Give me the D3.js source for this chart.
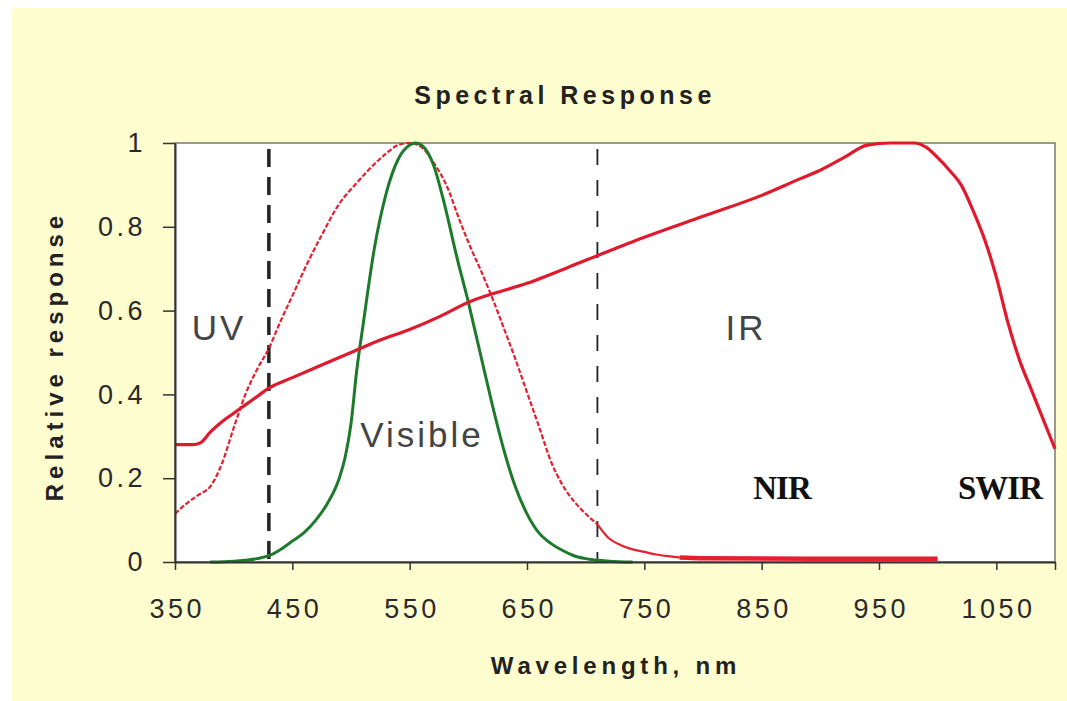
<!DOCTYPE html>
<html>
<head>
<meta charset="utf-8">
<script src="https://cdn.jsdelivr.net/npm/d3@7"></script>
<style>
  body { margin: 0; background: #fff; }
  svg text { font-family: "Liberation Sans", Arial, sans-serif; }
</style>
</head>
<body>
<div id="chart"></div>
<script>
"use strict";

// ---- data
var sensorWl  = [350, 365, 372, 380, 390, 400, 410, 420, 430, 450, 475, 500, 525, 550, 575, 600, 650, 700, 750, 800, 850, 883, 900, 920, 940, 960, 980, 990, 1000, 1010, 1020, 1030, 1040, 1050, 1060, 1070, 1080, 1090, 1100];
var sensorVal = [0.28, 0.28, 0.285, 0.31, 0.335, 0.355, 0.375, 0.395, 0.415, 0.44, 0.47, 0.50, 0.53, 0.555, 0.585, 0.62, 0.665, 0.72, 0.775, 0.825, 0.875, 0.915, 0.935, 0.965, 0.995, 1.0, 1.0, 0.99, 0.965, 0.935, 0.90, 0.84, 0.77, 0.68, 0.57, 0.48, 0.41, 0.34, 0.27];

var broadWl  = [350, 360, 370, 380, 390, 400, 410, 420, 430, 440, 450, 463, 475, 490, 505, 520, 530, 540, 550, 560, 570, 582, 592, 602, 610, 619, 630, 640, 650, 660, 671, 680, 690, 700, 710];
var broadVal = [0.115, 0.14, 0.16, 0.18, 0.235, 0.32, 0.40, 0.46, 0.51, 0.575, 0.635, 0.714, 0.78, 0.855, 0.905, 0.95, 0.975, 0.995, 1.0, 0.99, 0.955, 0.895, 0.82, 0.75, 0.70, 0.64, 0.56, 0.485, 0.405, 0.325, 0.236, 0.185, 0.145, 0.115, 0.09];

var tailWl  = [710, 720, 730, 740, 750, 760, 770, 780];
var tailVal = [0.09, 0.056, 0.04, 0.03, 0.024, 0.018, 0.014, 0.011];
var floorWl  = [780, 800, 900, 1000];
var floorVal = [0.011, 0.009, 0.008, 0.008];

var eyeWl  = [380, 400, 420, 430, 440, 450, 460, 470, 480, 490, 495, 500, 505, 510, 520, 530, 540, 550, 555, 560, 570, 580, 590, 600, 610, 620, 630, 640, 650, 660, 670, 680, 690, 700, 710, 720, 740];
var eyeVal = [0.0, 0.002, 0.008, 0.015, 0.03, 0.05, 0.07, 0.10, 0.14, 0.20, 0.25, 0.33, 0.46, 0.56, 0.75, 0.88, 0.96, 0.995, 1.0, 0.995, 0.95, 0.85, 0.73, 0.62, 0.50, 0.38, 0.27, 0.18, 0.115, 0.07, 0.045, 0.028, 0.015, 0.008, 0.004, 0.002, 0.0];

var xTicks = [350, 450, 550, 650, 750, 850, 950, 1050];
var yTicks = [0, 0.2, 0.4, 0.6, 0.8, 1];
var bandEdges = [430, 710];

var width = 1067, height = 701;
var margin = {top: 143, right: 10, bottom: 139, left: 175};

var svg = d3.select("#chart").append("svg")
    .attr("width", width)
    .attr("height", height);

// cream panel behind everything
svg.append("rect")
    .attr("x", 12).attr("y", 8)
    .attr("width", width - 12).attr("height", height - 8)
    .attr("fill", "#fefdcf");

var x = d3.scaleLinear().domain([350, 1100]).range([margin.left, 1055]);
var y = d3.scaleLinear().domain([0, 1]).range([562, margin.top]);

// plot background
svg.append("rect")
    .attr("x", x(350)).attr("y", y(1))
    .attr("width", x(1100) - x(350)).attr("height", y(0) - y(1))
    .attr("fill", "#fff")
    .attr("stroke", "#7a7a6a")
    .attr("stroke-width", 1.5);

function zip(xs, ys) {
    return xs.map(function(d, i) { return [d, ys[i]]; });
}

var line = d3.line()
    .x(function(d) { return x(d[0]); })
    .y(function(d) { return y(d[1]); })
    .curve(d3.curveMonotoneX);

var plot = svg.append("g");

// band edges
plot.selectAll("line.edge")
    .data(bandEdges)
    .enter().append("line")
    .attr("class", "edge")
    .attr("x1", function(d) { return x(d); })
    .attr("x2", function(d) { return x(d); })
    .attr("y1", y(1) + 6).attr("y2", y(0))
    .attr("stroke", "#222")
    .attr("stroke-width", function(d, i) { return i == 0 ? 3.5 : 1.8; })
    .attr("stroke-dasharray", function(d, i) { return i == 0 ? "18,10" : "16,15"; });

// broad dashed red curve
plot.append("path")
    .attr("d", line(zip(broadWl, broadVal)))
    .attr("fill", "none")
    .attr("stroke", "#e4202e")
    .attr("stroke-width", 2.2)
    .attr("stroke-dasharray", "5,2");

plot.append("path")
    .attr("d", line(zip(tailWl, tailVal)))
    .attr("fill", "none")
    .attr("stroke", "#e4202e")
    .attr("stroke-width", 2.2);

plot.append("path")
    .attr("d", line(zip(floorWl, floorVal)))
    .attr("fill", "none")
    .attr("stroke", "#e4202e")
    .attr("stroke-width", 4.5);

// eye response (green)
plot.append("path")
    .attr("d", line(zip(eyeWl, eyeVal)))
    .attr("fill", "none")
    .attr("stroke", "#1d7a2c")
    .attr("stroke-width", 3);

// sensor response (solid red)
plot.append("path")
    .attr("d", line(zip(sensorWl, sensorVal)))
    .attr("fill", "none")
    .attr("stroke", "#e01a2c")
    .attr("stroke-width", 3.2);

// axes
var xAxis = svg.append("g")
    .attr("transform", "translate(0," + y(0) + ")")
    .call(d3.axisBottom(x).tickValues(xTicks.concat([1100])).tickSize(8).tickFormat(function(d) { return d == 1100 ? "" : d; }).tickSizeOuter(0));

var yAxis = svg.append("g")
    .attr("transform", "translate(" + x(350) + ",0)")
    .call(d3.axisLeft(y).tickValues(yTicks).tickSize(12).tickFormat(d3.format("")).tickSizeOuter(0));

[xAxis, yAxis].forEach(function(ax) {
    ax.select(".domain").attr("stroke", "#333").attr("stroke-width", 2);
    ax.selectAll(".tick line").attr("stroke", "#333").attr("stroke-width", 1.5);
    ax.selectAll(".tick text")
        .attr("fill", "#2a2a2a")
        .style("font-size", "27px")
        .style("letter-spacing", "3.5px");
});
xAxis.selectAll(".tick text").attr("dy", null).attr("y", 56).attr("dx", "1.75px");
yAxis.selectAll(".tick text").attr("x", -29);

// titles
svg.append("text")
    .attr("x", 565).attr("y", 104)
    .attr("text-anchor", "middle")
    .style("font-size", "25px").style("font-weight", "bold").style("letter-spacing", "4.5px")
    .attr("fill", "#222")
    .text("Spectral Response");

svg.append("text")
    .attr("x", 616).attr("y", 674)
    .attr("text-anchor", "middle")
    .style("font-size", "24px").style("font-weight", "bold").style("letter-spacing", "4.8px")
    .attr("fill", "#222")
    .text("Wavelength, nm");

svg.append("text")
    .attr("transform", "translate(63,356) rotate(-90)")
    .attr("text-anchor", "middle")
    .style("font-size", "24px").style("font-weight", "bold").style("letter-spacing", "5px")
    .attr("fill", "#222")
    .text("Relative response");

// region labels
var bandLabels = [
    {t: "UV", x: 219, y: 340},
    {t: "Visible", x: 422, y: 447},
    {t: "IR", x: 746, y: 340}
];
svg.selectAll("text.band")
    .data(bandLabels)
    .enter().append("text")
    .attr("class", "band")
    .attr("x", function(d) { return d.x; })
    .attr("y", function(d) { return d.y; })
    .attr("text-anchor", "middle")
    .style("font-size", "35px").style("letter-spacing", "3px")
    .attr("fill", "#444")
    .text(function(d) { return d.t; });

var irLabels = [
    {t: "NIR", x: 782, y: 499},
    {t: "SWIR", x: 1000, y: 499}
];
svg.selectAll("text.ir")
    .data(irLabels)
    .enter().append("text")
    .attr("class", "ir")
    .attr("x", function(d) { return d.x; })
    .attr("y", function(d) { return d.y; })
    .attr("text-anchor", "middle")
    .style("font-family", "'Liberation Serif', 'Times New Roman', serif")
    .style("font-size", "33px").style("font-weight", "bold").style("letter-spacing", "-1px")
    .attr("fill", "#111")
    .text(function(d) { return d.t; });
</script>
</body>
</html>
